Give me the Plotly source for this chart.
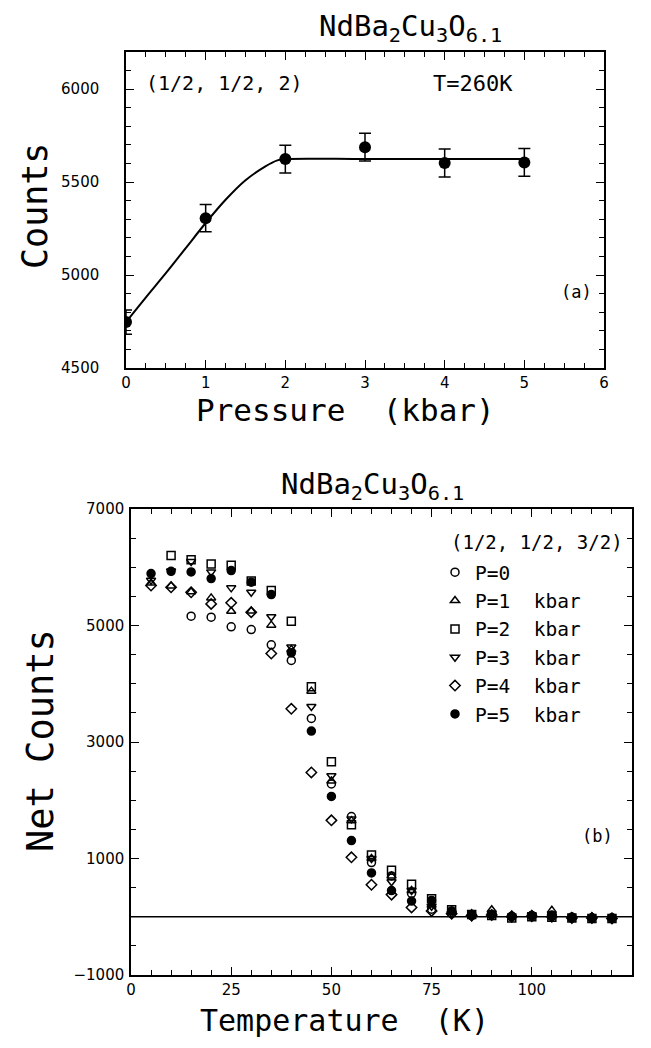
import plotly.graph_objects as go

# panel (a): counts vs pressure at T=260K
pressure = [0, 1, 2, 3, 4, 5]
counts = [4747, 5306, 5624, 5688, 5603, 5606]
counts_err = [65, 73, 75, 75, 75, 75]

# guide line drawn through the points
fit_p = [0, 0.25, 0.5, 0.75, 1.0, 1.25, 1.5, 1.75, 1.9, 2.0, 3.0, 4.0, 5.0]
fit_c = [4747, 4880, 5010, 5145, 5280, 5405, 5510, 5585, 5617, 5624, 5624, 5624, 5624]

# panel (b): net counts vs temperature
T0 = [15, 20, 25, 30, 35, 40, 45, 50, 55, 60, 65, 70, 75, 80, 85, 90, 95, 100, 105, 110, 115, 120]
P0 = [5160, 5143, 4977, 4931, 4669, 4400, 3404, 2280, 1720, 930, 700, 400, 130, 60, 20, 40, 10, 20, 10, -10, -20, -20]

T1 = [5, 10, 15, 20, 25, 30, 35, 40, 45, 50, 55, 60, 65, 70, 75, 80, 85, 90, 95, 100, 105, 110, 115, 120]
P1 = [5730, 5680, 5580, 5474, 5246, 5250, 5006, 4590, 3873, 2330, 1650, 1000, 700, 450, 200, 100, 50, 120, 30, 40, 110, 0, 0, -10]

T2 = [10, 15, 20, 25, 30, 35, 40, 45, 50, 55, 60, 65, 70, 75, 80, 85, 90, 95, 100, 105, 110, 115, 120]
P2 = [6200, 6130, 6057, 6034, 5766, 5600, 5074, 3947, 2661, 1580, 1060, 800, 560, 310, 120, 40, 20, -20, 0, -10, -20, -30, -30]

T3 = [5, 10, 15, 20, 25, 30, 35, 40, 45, 50, 55, 60, 65, 70, 75, 80, 85, 90, 95, 100, 105, 110, 115, 120]
P3 = [5777, 5935, 6100, 5920, 5646, 5571, 5149, 4630, 3610, 2420, 1680, 1000, 600, 450, 180, 60, 0, 30, -10, 20, 10, -30, -30, -30]

T4 = [5, 10, 15, 20, 25, 30, 35, 40, 45, 50, 55, 60, 65, 70, 75, 80, 85, 90, 95, 100, 105, 110, 115, 120]
P4 = [5686, 5657, 5571, 5371, 5389, 5229, 4520, 3570, 2478, 1655, 1020, 550, 380, 160, 100, 50, 20, 30, 0, 10, 0, -20, -20, -30]

T5 = [5, 10, 15, 20, 25, 30, 35, 40, 45, 50, 55, 60, 65, 70, 75, 80, 85, 90, 95, 100, 105, 110, 115, 120]
P5 = [5891, 5931, 5920, 5806, 5943, 5743, 5531, 4531, 3188, 2066, 1307, 752, 450, 270, 280, 100, 40, 40, 0, 20, 30, -10, -20, -20]

base_T = [0, 125]
base_N = [0, 0]

series = [
    (T0, P0, "P=0", "circle-open"),
    (T1, P1, "P=1  kbar", "triangle-up-open"),
    (T2, P2, "P=2  kbar", "square-open"),
    (T3, P3, "P=3  kbar", "triangle-down-open"),
    (T4, P4, "P=4  kbar", "diamond-open"),
    (T5, P5, "P=5  kbar", "circle"),
]

# the page body has an 8px margin, so the figure is a bit smaller than the window
PAD = 8
FW, FH = 651 - 2 * PAD, 1048 - 2 * PAD


def px(x):
    return (x - PAD) / FW


def py(y):
    return 1 - (y - PAD) / FH


TICKFONT = dict(family="DejaVu Sans", size=15, color="black")
LABELFONT = "DejaVu Sans Mono, Liberation Mono, monospace"

fig = go.Figure()

fig.add_trace(go.Scatter(x=fit_p, y=fit_c, mode="lines", line=dict(color="black", width=2, shape="spline"),
                         showlegend=False, xaxis="x", yaxis="y"))
fig.add_trace(go.Scatter(x=pressure, y=counts, mode="markers",
                         marker=dict(symbol="circle", size=12, color="black"),
                         error_y=dict(type="data", array=counts_err, color="black", thickness=1.5, width=6),
                         showlegend=False, xaxis="x", yaxis="y"))

fig.add_trace(go.Scatter(x=base_T, y=base_N, mode="lines", line=dict(color="black", width=1.5),
                         showlegend=False, xaxis="x2", yaxis="y2"))
for tt, vv, name, sym in series:
    fig.add_trace(go.Scatter(x=tt, y=vv, mode="markers", name=name,
                             marker=dict(symbol=sym, size=8, color="black", line=dict(color="black", width=1.5)),
                             xaxis="x2", yaxis="y2"))

frame = dict(showline=True, linecolor="black", linewidth=1.5, mirror="allticks", ticks="inside",
             tickcolor="black", ticklen=8, tickwidth=1.2, showgrid=False, zeroline=False,
             tickfont=TICKFONT, automargin=False)

fig.update_layout(
    width=FW, height=FH,
    margin=dict(l=0, r=0, t=0, b=0, autoexpand=False),
    paper_bgcolor="white", plot_bgcolor="white",
    xaxis=dict(frame, domain=[px(126), px(604)], range=[0, 6], dtick=1, anchor="y",
               minor=dict(ticks="inside", dtick=0.25, ticklen=5, tickcolor="black")),
    yaxis=dict(frame, domain=[py(368), py(52)], range=[4500, 6200], tick0=4500, dtick=500, anchor="x",
               ticklabelstandoff=22,
               minor=dict(ticks="inside", dtick=100, ticklen=5, tickcolor="black")),
    xaxis2=dict(frame, domain=[px(131), px(632)], range=[0, 125], dtick=25, anchor="y2",
                minor=dict(ticks="inside", dtick=5, ticklen=5, tickcolor="black")),
    yaxis2=dict(frame, domain=[py(975), py(509)], range=[-1000, 7000], tick0=-1000, dtick=2000,
                anchor="x2", ticklabelstandoff=2,
                minor=dict(ticks="inside", dtick=500, ticklen=5, tickcolor="black")),
    legend=dict(x=px(435), xanchor="left", y=py(553), yanchor="top", bgcolor="rgba(0,0,0,0)",
                font=dict(family=LABELFONT, size=19.5, color="black"), tracegroupgap=0, itemwidth=30),
    showlegend=True,
)

title_txt = "NdBa<sub>2</sub>Cu<sub>3</sub>O<sub>6.1</sub>"
ann = [
    (410, 28, title_txt, 29, 0),
    (372, 486, title_txt, 29, 0),
    (35, 206, "Counts", 35, -90),
    (40, 741, "Net Counts", 37, -90),
    (345, 410, "Pressure  (kbar)", 31, 0),
    (344, 1020, "Temperature  (K)", 30, 0),
    (224, 83, "(1/2, 1/2, 2)", 20, 0),
    (473, 83, "T=260K", 22, 0),
    (576, 292, "(a)", 17, 0),
    (537, 542, "(1/2, 1/2, 3/2)", 19, 0),
    (597, 836, "(b)", 17, 0),
]
for x, y, txt, size, ang in ann:
    fig.add_annotation(x=px(x), y=py(y), xref="paper", yref="paper", text=txt, showarrow=False, textangle=ang,
                       xanchor="center", yanchor="middle", font=dict(family=LABELFONT, size=size, color="black"))

fig.write_html("out.html")
